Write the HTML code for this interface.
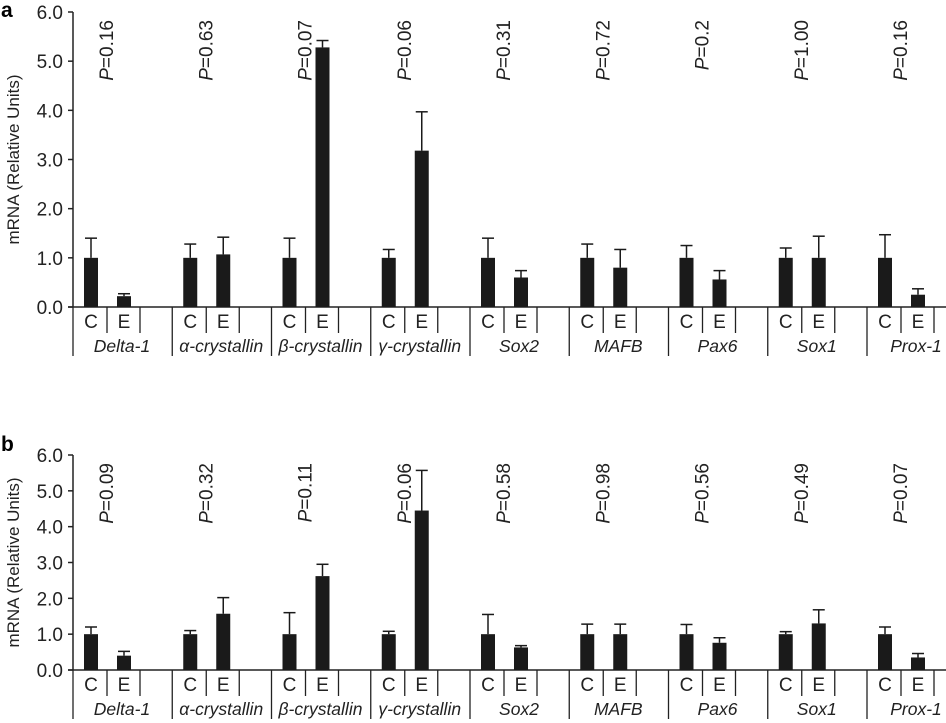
<!DOCTYPE html>
<html><head><meta charset="utf-8"><style>
html,body{margin:0;padding:0;background:#fff;}
svg{display:block;font-family:"Liberation Sans",Arial,sans-serif;}
</style></head><body>
<svg id="chart" width="946" height="723"></svg>
<script>
const genes = ["Delta-1","α-crystallin","β-crystallin","γ-crystallin","Sox2","MAFB","Pax6","Sox1","Prox-1"];
const aControl = [1,1,1,1,1,1,1,1,1];
const aControlErr = [0.4,0.28,0.4,0.17,0.4,0.28,0.25,0.2,0.47];
const aExp = [0.22,1.07,5.28,3.18,0.6,0.8,0.56,1.0,0.25];
const aExpErr = [0.05,0.35,0.14,0.79,0.14,0.37,0.18,0.44,0.12];
const aP = ["0.16","0.63","0.07","0.06","0.31","0.72","0.2","1.00","0.16"];
const bControl = [1,1,1,1,1,1,1,1,1];
const bControlErr = [0.2,0.1,0.6,0.08,0.55,0.28,0.27,0.07,0.2];
const bExp = [0.4,1.57,2.62,4.45,0.63,1.0,0.76,1.3,0.35];
const bExpErr = [0.12,0.45,0.33,1.12,0.05,0.28,0.14,0.38,0.11];
const bP = ["0.09","0.32","0.11","0.06","0.58","0.98","0.56","0.49","0.07"];
const yTicks = [0,1,2,3,4,5,6];

const NS="http://www.w3.org/2000/svg";
const svg=document.getElementById('chart');
function mk(tag,attrs,parent){const e=document.createElementNS(NS,tag);for(const k in attrs)e.setAttribute(k,attrs[k]);(parent||svg).appendChild(e);return e;}

function panel(id,label,top,bottom,labelY,ctrl,ctrlErr,exp,expErr,pv){
  const g=mk('g',{});
  
  
  const x0=73, gw=99.25, ymax=6;
  const y=v=>bottom-(v/ymax)*(bottom-top);
  const pl=mk('text',{x:1,y:labelY,'font-size':21,'font-weight':'bold'},g);pl.textContent=label;
  
  
  const yl=mk('line',{x1:x0,y1:top,x2:x0,y2:bottom,stroke:'#222','stroke-width':1.5},g);
  
  
  const xl=mk('line',{x1:x0-5,y1:bottom,x2:946,y2:bottom,stroke:'#222','stroke-width':1.5},g);
  
  
  yTicks.forEach(t=>{
    mk('line',{x1:x0-5,y1:y(t),x2:x0,y2:y(t),stroke:'#222','stroke-width':1.5},g);
    const tx=mk('text',{x:x0-10,y:y(t)+7,'font-size':19,'text-anchor':'end',fill:'#222'},g);
    tx.textContent=t.toFixed(1);
    
    
  });
  const cy=(top+bottom)/2;
  const yt=mk('text',{x:19,y:cy,'font-size':17,'text-anchor':'middle',transform:`rotate(-90 19 ${cy})`,fill:'#222'},g);
  yt.textContent='mRNA (Relative Units)';
  
  
  genes.forEach((name,i)=>{
    const gx=x0+i*gw;
    [[ctrl[i],ctrlErr[i],18,'C'],[exp[i],expErr[i],51,'E']].forEach(([v,e,off,lab])=>{
      const cx=gx+off;
      const r=mk('rect',{x:cx-7,y:y(v),width:14,height:bottom-y(v),fill:'#1a1a1a'},g);
      
      
      mk('line',{x1:cx,y1:y(v),x2:cx,y2:y(v+e),stroke:'#1a1a1a','stroke-width':1.5},g);
      mk('line',{x1:cx-6,y1:y(v+e),x2:cx+6,y2:y(v+e),stroke:'#1a1a1a','stroke-width':1.5},g);
      const tl=mk('text',{x:cx,y:bottom+21,'font-size':19,'text-anchor':'middle',fill:'#222'},g);
      tl.textContent=lab;
      
      
    });
    mk('line',{x1:gx+34,y1:bottom,x2:gx+34,y2:bottom+26,stroke:'#222','stroke-width':1.3},g);
    mk('line',{x1:gx+67,y1:bottom,x2:gx+67,y2:bottom+26,stroke:'#222','stroke-width':1.3},g);
    mk('line',{x1:gx,y1:bottom,x2:gx,y2:bottom+49,stroke:'#222','stroke-width':1.3},g);
    const nl=mk('text',{x:gx+49,y:bottom+45,'font-size':17.5,'font-style':'italic','text-anchor':'middle',fill:'#222'},g);
    nl.textContent=name;
    
    
    const px=gx+40, py=top+8;
    const pt=mk('text',{x:px,y:py,'font-size':19,'text-anchor':'end',transform:`rotate(-90 ${px} ${py})`,fill:'#222'},g);
    pt.innerHTML='<tspan font-style="italic">P</tspan>='+pv[i];
    
    
  });
}
panel('a','a',12,307,17,aControl,aControlErr,aExp,aExpErr,aP);
panel('b','b',455,670,451,bControl,bControlErr,bExp,bExpErr,bP);
</script>
</body></html>
